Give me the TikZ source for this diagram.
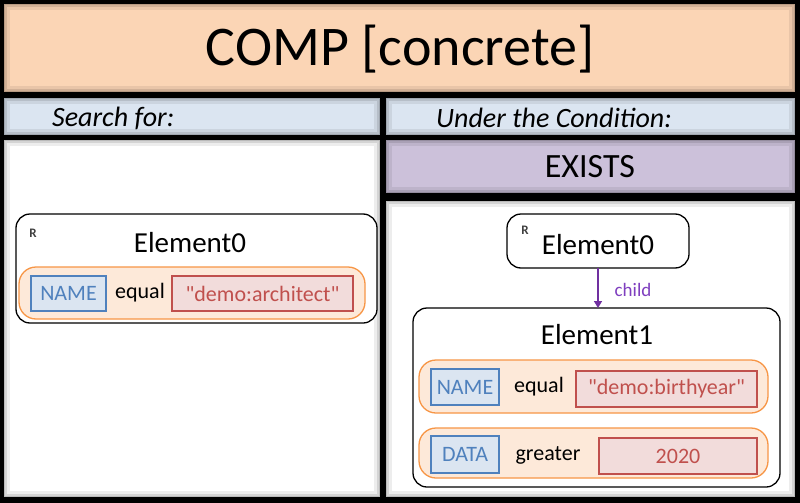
\documentclass[tikz,border=0pt]{standalone}
\usepackage{fontspec}
\setmainfont{Carlito}
\usetikzlibrary{arrows.meta}
\definecolor{banner}{HTML}{FBD5B5}
\definecolor{barblue}{HTML}{DBE5F1}
\definecolor{barpurple}{HTML}{CCC1DA}
\definecolor{roworange}{HTML}{F79646}
\definecolor{rowfill}{HTML}{FDE9D9}
\definecolor{keyblue}{HTML}{4F81BD}
\definecolor{keyfill}{HTML}{DBE5F1}
\definecolor{valred}{HTML}{C0504D}
\definecolor{valfill}{HTML}{F2DCDB}
\definecolor{arrowpurple}{HTML}{7030A0}
\definecolor{childpurple}{HTML}{7F3FBF}
\begin{document}
\begin{tikzpicture}[x=1pt,y=-1pt,
  box/.style={anchor=north west,inner sep=0pt,outer sep=0pt},
  panel/.style={box,draw=none,
    path picture={
      \draw[black,opacity=0.07,line width=12pt] (path picture bounding box.south west) rectangle (path picture bounding box.north east);
      \draw[black,opacity=0.10,line width=6pt] (path picture bounding box.south west) rectangle (path picture bounding box.north east);
      \draw[black,opacity=0.12,line width=2.5pt] (path picture bounding box.south west) rectangle (path picture bounding box.north east);
    }},
  elem/.style={box,draw=black,line width=1.3pt,fill=white,rounded corners=14pt},
  row/.style={box,draw=roworange,line width=1.3pt,fill=rowfill,rounded corners=17pt},
  keybox/.style={box,draw=keyblue,line width=1.3pt,fill=keyfill,text=keyblue,font=\fontsize{22}{26}\selectfont},
  valbox/.style={box,draw=valred,line width=1.3pt,fill=valfill,text=valred,font=\fontsize{22}{26}\selectfont},
  optext/.style={inner sep=0pt,font=\fontsize{22}{26}\selectfont},
  elemtext/.style={inner sep=0pt,font=\fontsize{29}{34}\selectfont},
  rmark/.style={inner sep=0pt,text=black!75,font=\fontsize{13}{14}\selectfont\bfseries},
  link/.style={draw=arrowpurple,line width=1.6pt,-{Triangle[length=7pt,width=8pt]}}
]
\fill[black] (0,0) rectangle (800,503);
\useasboundingbox (0,0) rectangle (800,503);

% panels
\node[panel,fill=banner,minimum width=791pt,minimum height=88pt] (title) at (4,4) {};
\node[font=\fontsize{56}{62}\selectfont,inner sep=0pt] (titletext) at (400,49) {COMP [concrete]};
\node[panel,fill=barblue,minimum width=376pt,minimum height=37pt] (searchbar) at (4,98) {};
\node[anchor=west,inner sep=0pt,font=\fontsize{28}{32}\selectfont\itshape] (searchtext) at (52,118) {Search for:};
\node[panel,fill=barblue,minimum width=409pt,minimum height=37pt] (condbar) at (386,98) {};
\node[anchor=west,inner sep=0pt,font=\fontsize{28}{32}\selectfont\itshape] (condtext) at (436,118) {Under the Condition:};
\node[panel,fill=white,minimum width=376pt,minimum height=357pt] (leftpanel) at (4,140) {};
\node[panel,fill=barpurple,minimum width=409pt,minimum height=53pt] (exists) at (386,140) {};
\node[inner sep=0pt,font=\fontsize{34}{40}\selectfont] (existstext) at (590,167) {EXISTS};
\node[panel,fill=white,minimum width=409pt,minimum height=296pt] (rightpanel) at (386,201) {};

% left Element0
\node[elem,minimum width=361pt,minimum height=109pt] (le0) at (16,214) {};
\node[rmark] (le0r) at (33,233) {R};
\node[elemtext] (le0t) at (190,243) {Element0};
\node[row,minimum width=346pt,minimum height=52pt] (lrow) at (19,267) {};
\node[keybox,minimum width=75pt,minimum height=35pt] (lkey) at (31,276) {NAME};
\node[optext] (lop) at (140,293) {equal};
\node[valbox,minimum width=181pt,minimum height=35pt] (lval) at (172,276) {\textquotedbl demo:architect\textquotedbl};

% right Element0
\node[elem,minimum width=182pt,minimum height=54pt] (re0) at (507,214) {};
\node[rmark] (re0r) at (525,230) {R};
\node[elemtext] (re0t) at (598,245) {Element0};

% Element1
\node[elem,minimum width=367pt,minimum height=179pt] (e1) at (413,308) {};
\node[elemtext] (e1t) at (597,335) {Element1};
\node[row,minimum width=349pt,minimum height=53pt] (row1) at (419,360) {};
\node[keybox,minimum width=68pt,minimum height=36pt] (key1) at (431,369) {NAME};
\node[optext] (op1) at (539,387) {equal};
\node[valbox,minimum width=181pt,minimum height=36pt] (val1) at (576,371) {\textquotedbl demo:birthyear\textquotedbl};
\node[row,minimum width=349pt,minimum height=50pt] (row2) at (419,428) {};
\node[keybox,minimum width=68pt,minimum height=37pt] (key2) at (431,436) {DATA};
\node[optext] (op2) at (548,455) {greater};
\node[valbox,minimum width=158pt,minimum height=36pt] (val2) at (599,438) {2020};

% connector
\draw[link] (re0.south) -- (re0.south |- e1.north);
\node[inner sep=0pt,text=childpurple,font=\fontsize{19}{22}\selectfont] (childlbl) at (633,290) {child};
\end{tikzpicture}
\end{document}
